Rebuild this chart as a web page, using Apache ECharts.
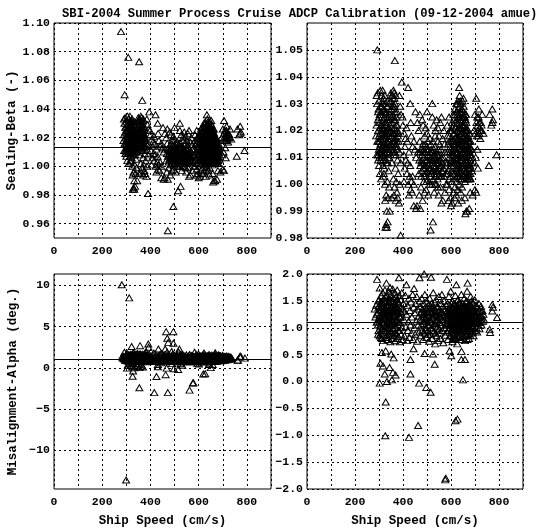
<html>
    <head>
        <meta charset="utf-8">
        <script src="https://cdn.jsdelivr.net/npm/echarts@6.0.0/dist/echarts.min.js"></script>
    </head>
    <body style="margin:0;background:#fff">
        <div id="main" style="width:544px;height:528px"></div>
        <script>

        var titleText = 'SBI-2004 Summer Process Cruise ADCP Calibration (09-12-2004 amue)';
        var speedName = 'Ship Speed (cm/s)';
        var betaName = 'Sealing-Beta (-)';
        var alphaName = 'Misalignment-Alpha (deg.)';

        var speedTicks = [0, 100, 200, 300, 400, 500, 600, 700, 800, 900];
        var speedLabels = [0, 200, 400, 600, 800];
        var betaWideTicks = [0.96, 0.98, 1.00, 1.02, 1.04, 1.06, 1.08, 1.10];
        var betaZoomTicks = [0.98, 0.99, 1.00, 1.01, 1.02, 1.03, 1.04, 1.05];
        var alphaWideTicks = [-10, -5, 0, 5, 10];
        var alphaZoomTicks = [-2.0, -1.5, -1.0, -0.5, 0.0, 0.5, 1.0, 1.5, 2.0];

        var betaMean = 1.013;
        var alphaMean = 1.11;

        // [ship speed, beta]
        var betaPoints = [
            [278,1.094],[308,1.076],[353,1.073],[293,1.050],[366,1.046],[390,0.981],[495,0.972],[472,0.955],
            [333,0.984],[336,0.986],
            [290,1.033],[295,1.034],[300,1.031],[305,1.035],[292,1.030],[298,1.028],[310,1.033],[303,1.026],
            [290,1.022],[296,1.020],[300,1.018],[293,1.016],[305,1.019],[299,1.013],[291,1.011],[296,1.009],
            [302,1.010],[308,1.012],[300,1.007],[306,1.015],[310,1.022],[295,1.024],[288,1.018],[304,1.004],
            [309,1.002],
            [315,1.035],[320,1.032],[325,1.030],[318,1.028],[330,1.027],[322,1.025],[335,1.024],[312,1.023],
            [328,1.022],[340,1.021],[317,1.020],[332,1.019],[324,1.018],[338,1.017],[314,1.016],[327,1.015],
            [342,1.014],[319,1.013],[333,1.012],[326,1.011],[337,1.010],[316,1.009],[330,1.008],[322,1.006],
            [340,1.005],[318,1.003],[335,1.001],[325,1.000],[342,0.999],[330,0.996],[338,0.995],[326,0.994],
            [345,0.990],[333,0.990],[330,0.985],[327,0.984],[320,1.004],[344,1.026],[336,1.029],[313,1.019],
            [321,1.015],[329,1.013],[343,1.010],[317,1.011],
            [296,1.027],[301,1.023],[306,1.029],[311,1.026],[316,1.024],[321,1.021],[326,1.027],[331,1.023],
            [336,1.020],[341,1.018],[298,1.016],[303,1.014],[308,1.017],[313,1.013],[318,1.015],[323,1.012],
            [328,1.017],[333,1.016],[338,1.013],[343,1.016],[297,1.011],[302,1.012],[307,1.009],[312,1.011],
            [317,1.007],[322,1.010],[327,1.009],[332,1.014],[337,1.008],[342,1.012],[314,1.031],[324,1.033],
            [334,1.031],[309,1.020],[319,1.018],[329,1.020],
            [300,1.025],[304,1.021],[308,1.027],[312,1.029],[316,1.030],[320,1.027],[324,1.023],[328,1.026],
            [332,1.029],[336,1.025],[340,1.023],[344,1.020],[302,1.016],[306,1.013],[310,1.010],[314,1.021],
            [318,1.017],[322,1.019],[326,1.014],[330,1.018],[334,1.015],[338,1.021],[342,1.019],[346,1.024],
            [348,1.017],[352,1.013],[356,1.029],[360,1.025],[364,1.029],[368,1.027],[372,1.025],[376,1.022],
            [380,1.019],[366,1.016],[370,1.014],
            [350,1.034],[355,1.033],[360,1.035],[365,1.032],[358,1.030],[370,1.033],[348,1.031],[362,1.028],
            [375,1.027],[352,1.025],[368,1.024],[357,1.023],[372,1.022],[361,1.021],[349,1.020],[378,1.020],
            [365,1.019],[355,1.018],[370,1.017],[360,1.016],[382,1.016],[351,1.015],[367,1.014],[374,1.013],
            [358,1.012],[385,1.012],[363,1.011],[377,1.009],[354,1.008],[390,1.008],[369,1.006],[380,1.004],
            [360,1.002],[372,1.001],[386,1.000],[365,0.999],[375,0.997],[362,0.996],[378,0.995],[353,0.995],
            [370,0.994],[383,0.993],[395,1.038],[385,1.033],[392,1.026],[398,1.025],[388,1.029],
            [352,1.028],[357,1.026],[362,1.024],[367,1.021],[372,1.019],[354,1.021],[359,1.019],[364,1.017],
            [369,1.015],[374,1.016],[356,1.014],[361,1.013],[366,1.012],[371,1.011],[353,1.033],[358,1.032],
            [363,1.034],[367,1.030],[376,1.014],[379,1.018],
            [400,1.022],[405,1.019],[410,1.017],[415,1.021],[408,1.014],[418,1.016],[425,1.012],[403,1.011],
            [412,1.009],[420,1.008],[430,1.007],[407,1.006],[416,1.004],[428,1.003],[404,1.001],[422,1.000],
            [435,1.001],[440,1.003],[445,1.000],[432,0.998],[438,0.997],[425,0.996],[445,0.992],[455,0.991],
            [440,1.014],[435,1.018],[450,1.013],[445,1.016],[455,1.010],[460,1.023],[452,1.027],[421,1.036],
            [430,1.030],[432,1.023],
            [465,1.020],[470,1.016],[475,1.013],[480,1.011],[468,1.009],[485,1.008],[472,1.007],[490,1.006],
            [478,1.005],[495,1.004],[462,1.012],[488,1.010],[500,1.009],[483,1.015],[493,1.012],[505,1.011],
            [498,1.014],[510,1.008],[476,1.003],[502,1.002],[515,1.006],[486,1.001],[508,1.004],[470,1.026],
            [480,1.024],[495,1.021],[490,1.018],[500,1.019],[512,1.017],[518,1.013],[520,1.009],[475,0.999],
            [490,0.997],[505,0.996],[468,0.996],[482,0.994],[458,0.992],[472,0.991],[500,1.027],[522,1.030],
            [525,0.986],[515,0.983],[496,0.998],[512,1.000],[466,1.004],[484,1.022],
            [472,1.012],[478,1.009],[484,1.006],[490,1.003],[496,1.007],[502,1.005],[508,1.010],[514,1.003],
            [520,1.005],[526,1.002],[532,1.006],[538,1.009],[544,1.005],[550,1.008],[556,1.003],[476,1.008],
            [482,1.012],[488,1.004],[494,1.009],[500,1.013],[506,1.007],[512,1.012],[518,1.010],[524,1.012],
            [530,1.004],[536,1.008],[542,1.011],[548,1.013],[554,1.006],[560,1.010],[498,1.001],[510,1.001],
            [522,1.000],[534,1.000],[546,0.999],[486,1.013],[492,1.015],[504,1.016],[516,1.015],[528,1.013],
            [505,1.013],[509,1.006],[513,1.009],[517,1.004],[521,1.012],[525,1.009],[529,1.007],[533,1.011],
            [537,1.005],[541,1.004],[545,1.009],[549,1.003],[553,1.011],[557,1.007],[561,1.003],[565,1.008],
            [569,1.006],[573,1.015],[577,1.004],[489,1.007],
            [522,1.025],[528,1.022],[535,1.020],[540,1.024],[545,1.021],[550,1.018],[525,1.016],[532,1.014],
            [538,1.012],[546,1.011],[553,1.015],[558,1.013],[530,1.010],[542,1.008],[548,1.006],[555,1.009],
            [560,1.007],[527,1.005],[536,1.003],[544,1.002],[552,1.004],[563,1.005],[540,1.000],[556,0.999],
            [530,0.997],[548,0.996],[570,1.020],[565,1.017],[575,1.012],[568,1.010],[572,1.003],[578,1.008],
            [560,1.025],[555,1.023],[545,1.016],[534,1.018],[524,1.008],[566,0.994],[560,0.993],[575,0.997],
            [580,1.000],
            [585,1.022],[585,1.018],[585,1.012],[585,1.008],[585,1.004],[585,1.000],
            [592,1.025],[592,1.016],[592,1.010],[592,1.006],[592,1.002],[592,0.998],
            [598,1.020],[598,1.014],[598,1.009],[598,1.003],[598,0.995],
            [604,1.023],[604,1.017],[604,1.011],[604,1.005],[604,1.001],[604,0.993],
            [610,1.026],[610,1.019],[610,1.013],[610,1.007],[610,1.002],[610,0.997],
            [616,1.028],[616,1.021],[616,1.015],[616,1.010],[616,1.004],[616,0.999],
            [622,1.030],[622,1.024],[622,1.018],[622,1.012],[622,1.006],[622,1.001],[622,0.996],
            [628,1.031],[628,1.026],[628,1.020],[628,1.014],[628,1.008],[628,1.003],[628,0.998],
            [634,1.036],[634,1.029],[634,1.023],[634,1.017],[634,1.011],[634,1.005],[634,1.000],
            [640,1.030],[640,1.025],[640,1.019],[640,1.013],[640,1.007],[640,1.002],[640,0.997],
            [646,1.028],[646,1.022],[646,1.016],[646,1.010],[646,1.004],[646,0.999],
            [652,1.032],[652,1.027],[652,1.020],[652,1.014],[652,1.008],[652,1.003],
            [658,1.025],[658,1.018],[658,1.012],[658,1.006],[658,1.001],[658,0.995],
            [664,1.023],[664,1.016],[664,1.010],[664,1.005],[664,1.002],[664,0.990],
            [670,1.020],[670,1.014],[670,1.009],[670,1.004],[670,1.002],
            [676,1.019],[676,1.013],[676,1.008],[676,1.003],[676,0.991],
            [682,1.016],[682,1.011],[682,1.006],[682,1.002],
            [588,1.015],[588,1.005],[595,1.012],[595,1.020],[601,1.007],[601,1.016],[607,1.009],[607,1.021],
            [613,1.011],[613,1.024],[619,1.008],[619,1.017],[625,1.010],[625,1.027],[631,1.015],[631,1.021],
            [631,1.006],[637,1.027],[637,1.018],[637,1.009],[637,1.003],[643,1.021],[643,1.015],[643,1.005],
            [649,1.025],[649,1.012],[649,1.007],[655,1.022],[655,1.016],[655,1.010],[661,1.020],[661,1.013],
            [661,1.004],[667,1.018],[667,1.011],[667,1.007],[673,1.016],[673,1.006],[679,1.014],[679,1.009],
            [686,1.008],[686,1.013],
            [594,1.018],[597,1.008],[600,1.013],[603,1.020],[606,1.004],[609,1.016],[612,1.008],[614,1.019],
            [617,1.012],[620,1.021],[623,1.015],[624,1.003],[626,1.023],[627,1.012],[629,1.017],[630,1.028],
            [632,1.010],[633,1.025],[635,1.014],[636,1.021],[638,1.006],[639,1.031],[641,1.016],[642,1.024],
            [644,1.009],[645,1.028],[647,1.013],[648,1.020],[650,1.004],[651,1.017],[653,1.029],[654,1.011],
            [656,1.023],[657,1.007],[659,1.015],[660,1.020],[662,1.009],[663,1.017],[665,1.013],[666,1.003],
            [668,1.015],[669,1.006],[671,1.012],[672,1.018],[674,1.010],[675,1.004],[677,1.016],[678,1.007],
            [680,1.011],[681,1.004],[684,1.010],[687,1.005],[633,1.008],[627,1.030],[644,1.002],[655,1.002],
            [660,1.026],[666,1.021],[640,1.010],[620,1.009],[612,1.015],[606,1.012],[648,1.031],[636,1.033],
            [630,1.004],[672,1.002],[678,1.002],
            [616,1.026],[619,1.013],[621,1.005],[623,1.027],[626,1.017],[629,1.007],[631,1.025],[633,1.019],
            [634,1.013],[636,1.003],[638,1.024],[640,1.016],[642,1.011],[643,1.027],[645,1.019],[647,1.006],
            [649,1.016],[650,1.022],[652,1.010],[654,1.025],[656,1.013],[657,1.019],[659,1.004],[661,1.024],
            [662,1.015],[664,1.008],[665,1.020],[667,1.013],[669,1.017],[670,1.007],[672,1.013],[674,1.016],
            [676,1.006],[678,1.012],[680,1.007],[683,1.013],[626,1.010],[632,1.016],[646,1.012],[658,1.009],
            [663,1.026],[668,1.004],[639,1.020],[651,1.004],[624,1.020],[618,1.023],
            [590,0.994],[600,0.992],[615,0.995],[630,0.993],[645,0.994],[660,0.989],[668,0.990],[680,0.997],
            [690,0.996],
            [695,1.020],[700,1.026],[705,1.032],[708,1.018],[712,1.022],[715,1.025],[718,1.019],[720,1.021],
            [724,1.023],[728,1.020],[722,1.017],[710,1.013],[703,1.010],[712,1.006],[698,1.008],[705,0.997],
            [700,0.998],[730,1.026],[735,1.019],[716,1.028],
            [702,1.019],[706,1.023],[711,1.020],[714,1.018],[719,1.023],[723,1.020],[727,1.022],[709,1.025],
            [761,1.026],[772,1.028],[772,1.023],[768,1.022],[758,1.007],[790,1.011],[775,1.024]
        ];

        // [ship speed, alpha]
        var alphaPoints = [
            [281,10.1],[312,8.5],[299,-13.6],[465,4.4],[495,4.4],[470,3.6],[474,3.1],[495,3.0],
            [322,2.6],[391,2.9],[392,2.5],[357,2.7],[433,2.3],[461,2.3],[520,2.3],[488,2.0],
            [354,-2.4],[416,-3.0],[472,-3.0],[562,-2.7],[578,-1.8],[627,-0.7],
            [282,1.35],[285,1.20],[288,1.42],[290,1.10],[292,1.90],[293,1.28],[295,1.05],[297,1.50],
            [298,0.95],[300,1.33],[301,1.15],[303,1.74],[303,0.85],[305,1.45],[306,1.02],[307,1.25],
            [308,0.90],[309,1.60],[310,1.38],[311,1.12],[312,0.80],[313,1.48],[314,0.98],[315,1.22],
            [316,1.65],[317,0.76],[318,1.30],[319,1.08],[320,1.55],[320,0.88],
            [322,1.40],[323,1.18],[324,0.95],[325,1.70],[326,1.28],[327,0.82],[328,1.50],[329,1.05],
            [330,1.35],[331,1.83],[332,0.92],[333,1.60],[334,1.15],[335,1.42],[336,0.78],[337,1.25],
            [338,1.00],[339,1.55],[340,1.68],[341,0.86],[342,1.32],[343,1.10],[344,1.47],[345,0.95],
            [346,1.75],[347,1.20],[348,0.74],[349,1.38],[350,1.05],[351,1.62],[352,0.90],[353,1.28],
            [354,1.50],[355,0.80],[356,1.15],[357,1.72],[358,1.40],[359,0.98],[360,1.22],
            [362,1.55],[363,0.85],[364,1.35],[365,1.10],[366,1.65],[367,0.76],[368,1.45],[369,1.00],
            [370,1.25],[371,1.58],[372,0.90],[373,1.38],[374,1.15],[376,1.70],[377,0.80],[378,1.30],
            [379,1.05],[380,1.48],[382,0.95],[383,1.93],[384,1.22],[385,1.60],[386,0.74],[388,1.40],
            [389,1.10],[390,1.52],[392,0.88],[393,1.28],[395,1.65],[396,1.00],[398,1.35],[399,0.78],
            [290,1.25],[294,1.12],[298,1.38],[302,1.22],[306,1.35],[310,1.18],[314,1.30],[318,1.10],
            [322,1.28],[326,1.15],[330,1.42],[334,1.05],[338,1.30],[342,1.22],[346,1.40],[350,1.18],
            [354,1.33],[358,1.12],[362,1.25],[366,1.38],[370,1.15],[374,1.28],[378,1.12],[382,1.35],
            [386,1.20],[390,1.30],[296,0.88],[308,0.82],[320,0.95],[332,0.85],[344,0.90],[356,0.86],
            [368,0.92],[380,0.84],[300,1.52],[315,1.45],[328,1.58],[340,1.48],[352,1.56],[364,1.45],
            [376,1.52],
            [304,1.18],[311,1.40],[319,1.25],[327,1.02],[335,1.30],[343,1.15],[351,1.40],[359,1.28],
            [367,1.05],[375,1.40],[383,1.10],[391,1.20],[305,1.05],[321,1.32],[337,1.12],[353,1.08],
            [369,1.32],[385,0.95],
            [312,0.54],[328,0.57],[351,0.51],[361,0.44],[306,0.34],[317,0.29],[324,0.14],[344,0.26],
            [358,0.17],[369,0.12],[303,-0.03],[333,0.00],[354,0.03],[328,-0.38],[326,-1.01],
            [402,1.45],[404,1.15],[406,0.85],[408,1.30],[410,1.60],[412,1.02],[414,1.80],[415,1.25],
            [417,0.76],[419,1.42],[421,0.95],[423,1.12],[425,1.55],[427,0.82],[429,1.32],[431,1.05],
            [433,1.48],[435,0.90],[437,1.20],[440,1.62],[442,0.78],[444,1.38],[446,1.73],[447,1.00],
            [449,1.28],[451,0.88],[453,1.45],[455,1.12],[457,1.58],[459,0.75],[461,1.35],[463,1.05],
            [465,1.22],[467,0.92],[469,1.93],[469,1.50],
            [425,-1.04],[431,0.41],[444,0.61],[431,0.14],[467,-0.03],[497,-0.11],[515,-0.20],[463,-0.82],
            [619,-0.73],[576,-1.83],[650,0.03],[525,0.51],[532,0.32],[490,0.52],[594,0.57],[601,0.48],
            [643,0.41],[658,0.41],[644,0.56],
            [471,1.15],[472,1.40],[474,0.85],[475,1.28],[477,1.05],[478,1.55],[480,0.95],[481,1.35],
            [483,1.18],[484,0.78],[486,1.45],[487,1.08],[489,1.25],[490,0.90],[491,1.62],[493,1.38],
            [494,1.00],[496,1.20],[497,0.82],[499,1.50],[500,1.12],[502,1.30],[503,0.95],[505,1.42],
            [506,1.05],[508,1.22],[509,0.75],[511,1.55],[512,1.15],[514,1.35],[515,0.88],[517,1.94],
            [517,1.28],[519,1.00],[520,1.45],[522,0.80],[523,1.18],[525,1.38],[526,1.65],[528,0.92],
            [529,1.25],[531,1.08],[532,1.48],[534,0.70],[535,1.32],[537,1.12],[538,1.52],[540,0.85],
            [541,1.22],[543,1.40],[544,1.02],[546,0.76],[547,1.30],[549,1.58],[550,1.10],[552,0.90],
            [553,1.35],[555,1.20],[556,0.80],[558,1.45],[559,1.05],[561,1.28],[562,1.62],[564,0.95],
            [565,1.15],[567,1.40],[568,0.72],[570,1.25],[571,1.50],[573,1.00],[574,1.32],[576,0.86],
            [577,1.18],[579,1.42],[580,1.08],
            [482,1.25],[486,1.12],[490,1.30],[494,1.18],[498,1.35],[502,1.05],[506,1.28],[510,1.15],
            [514,1.40],[518,1.10],[522,1.30],[526,1.20],[530,1.35],[534,1.05],[538,1.25],[542,1.15],
            [546,1.38],[550,1.22],[554,1.10],[558,1.28],[488,0.92],[504,0.88],[520,0.95],[536,0.90],
            [552,0.98],
            [582,1.30],[583,1.90],[583,0.92],[585,1.20],[586,1.45],[587,0.78],[589,1.10],[590,1.35],
            [591,1.58],[593,1.00],[594,1.25],[595,0.85],[597,1.40],[598,1.15],[599,1.68],[601,0.95],
            [602,1.30],[603,1.05],[605,1.50],[606,0.74],[607,1.22],[609,1.38],[610,0.90],[611,1.12],
            [613,1.45],[614,1.02],[615,1.28],[617,0.82],[618,1.60],[619,1.18],[621,1.35],[622,1.80],
            [622,0.96],[623,1.08],[625,1.42],[626,0.70],[627,1.25],[629,1.52],[630,1.00],[631,1.15],
            [633,1.32],[634,0.88],[635,1.48],[637,1.10],[638,1.22],[639,0.78],[641,1.38],[642,1.05],
            [643,1.62],[645,0.92],[646,1.28],[647,1.18],[649,1.45],[650,0.85],[651,1.12],[653,1.35],
            [654,1.00],[655,1.55],[657,1.22],[658,0.76],[659,1.40],[661,1.08],[662,1.30],[663,0.95],
            [665,1.50],[666,1.15],[667,1.68],[669,1.83],[669,1.25],[670,0.88],[671,1.38],[673,1.05],
            [674,1.20],[675,0.80],[677,1.45],[678,1.12],[679,1.32],[681,0.98],[682,1.58],[683,1.22],
            [685,1.40],[686,0.90],[687,1.10],[689,1.30],[690,1.48],[691,1.02],[693,1.18],[694,0.85],
            [695,1.35],[697,1.25],[698,1.08],[699,1.52],[701,0.95],[702,1.30],[703,1.15],[705,1.42],
            [706,1.00],[707,1.22],[709,0.92],[710,1.38],[711,1.12],[713,1.28],[714,1.05],[716,1.45],
            [717,1.18],[719,0.98],[720,1.32],[722,1.10],[723,1.25],[725,1.40],[727,1.05],[729,1.20],
            [731,1.32],[733,1.12],[735,1.25],[738,1.15],
            [600,1.10],[605,1.18],[610,1.25],[615,1.05],[620,1.12],[625,0.98],[630,1.30],[635,1.08],
            [640,1.18],[645,1.02],[650,1.25],[655,1.12],[660,0.95],[665,1.20],[670,1.08],[675,1.30],
            [680,1.15],[612,0.88],[628,0.85],[648,1.35],[662,1.40],[592,1.22],[604,1.35],[618,1.28],
            [584,1.15],[588,1.28],[592,1.05],[596,1.32],[600,1.22],[604,0.98],[608,1.15],[612,1.30],
            [616,1.08],[620,1.22],[624,1.35],[628,1.12],[632,0.95],[636,1.28],[640,1.05],[644,1.40],
            [648,1.12],[652,1.25],[656,0.92],[660,1.18],[664,1.32],[668,1.05],[672,1.25],[676,1.15],
            [680,1.38],[684,1.05],[688,1.22],[692,1.30],[696,1.12],[700,1.22],[704,1.08],[708,1.30],
            [712,1.18],[716,1.10],[720,1.22],[724,1.15],[728,1.30],[596,0.85],[608,0.80],[620,0.78],
            [632,0.82],[644,0.78],[656,0.84],[668,0.78],[680,0.86],[602,1.45],[614,1.42],[626,1.50],
            [638,1.45],[650,1.40],[662,1.48],[674,1.42],[686,1.50],[606,1.08],[618,1.00],[630,1.20],
            [642,1.28],[654,1.35],[666,0.98],[678,0.95],[690,1.00],
            [583,1.05],[587,1.18],[591,0.95],[595,1.12],[599,1.25],[603,0.90],[607,1.38],[611,1.02],
            [615,1.15],[619,0.92],[623,1.28],[627,1.05],[631,1.38],[635,0.95],[639,1.12],[643,1.25],
            [647,0.98],[651,1.32],[655,1.05],[659,1.22],[663,0.88],[667,1.12],[671,1.28],[675,0.98],
            [679,1.22],[683,1.10],[687,1.32],[691,0.92],[695,1.15],[699,1.28],[609,1.20],[621,1.10],
            [633,1.02],[645,1.15],[657,1.08],[669,1.18],[681,1.28],[613,0.86],[637,0.84],[661,0.86],
            [761,0.97],[763,0.91],[772,1.43],[772,1.31],[792,1.19],[775,1.38]
        ];

        var myChart = echarts.init(document.getElementById('main'));
        var font = 'Liberation Mono';
        var weight = 'bold';

        function fmt(digits) {
            return function (v) {
                return v.toFixed(digits).replace('-', '\u2212');
            };
        }

        function xAxis(gridIndex, withName) {
            return {
                type: 'value',
                gridIndex: gridIndex,
                min: 0,
                max: 900,
                name: withName ? speedName : '',
                nameLocation: 'middle',
                nameGap: 25,
                nameTextStyle: {color: '#000', fontFamily: font, fontWeight: weight, fontSize: 12.5},
                axisLine: {show: false},
                axisTick: {show: false, customValues: speedTicks},
                axisLabel: {
                    customValues: speedLabels,
                    color: '#000',
                    fontFamily: font,
                    fontWeight: weight,
                    fontSize: 11.5,
                    margin: 7
                },
                splitLine: {show: true, lineStyle: {color: '#000', type: [2, 3], width: 1}}
            };
        }

        function yAxis(gridIndex, min, max, ticks, labels, digits, name) {
            return {
                type: 'value',
                gridIndex: gridIndex,
                min: min,
                max: max,
                name: name || '',
                nameLocation: 'middle',
                nameGap: 35,
                nameTextStyle: {color: '#000', fontFamily: font, fontWeight: weight, fontSize: 12.5},
                axisLine: {show: false},
                axisTick: {show: false, customValues: ticks},
                axisLabel: {
                    customValues: labels,
                    formatter: fmt(digits),
                    color: '#000',
                    fontFamily: font,
                    fontWeight: weight,
                    fontSize: 11.5,
                    margin: 4
                },
                splitLine: {show: true, lineStyle: {color: '#000', type: [2, 3], width: 1}}
            };
        }

        function scatter(index, points, mean) {
            return {
                type: 'scatter',
                xAxisIndex: index,
                yAxisIndex: index,
                data: points,
                clip: true,
                symbol: 'triangle',
                symbolSize: [7, 6],
                itemStyle: {color: 'rgba(0,0,0,0)', borderColor: '#000', borderWidth: 1, opacity: 1},
                markLine: {
                    silent: true,
                    symbol: 'none',
                    precision: 4,
                    label: {show: false},
                    lineStyle: {color: '#000', type: 'solid', width: 1},
                    data: [{yAxis: mean}]
                }
            };
        }

        var gridStyle = {show: true, borderColor: '#000', borderWidth: 1, backgroundColor: 'transparent'};

        myChart.setOption({
            backgroundColor: '#fff',
            animation: false,
            title: {
                text: titleText,
                left: 57,
                top: 3,
                textStyle: {color: '#000', fontFamily: font, fontSize: 12.2, fontWeight: weight}
            },
            grid: [
                Object.assign({left: 54, top: 23, width: 217, height: 215}, gridStyle),
                Object.assign({left: 307, top: 23, width: 216, height: 215}, gridStyle),
                Object.assign({left: 54, top: 274, width: 217, height: 216}, gridStyle),
                Object.assign({left: 307, top: 274, width: 216, height: 216}, gridStyle)
            ],
            xAxis: [
                xAxis(0, false),
                xAxis(1, false),
                xAxis(2, true),
                xAxis(3, true)
            ],
            yAxis: [
                yAxis(0, 0.95, 1.10, betaWideTicks, betaWideTicks, 2, betaName),
                yAxis(1, 0.98, 1.06, betaZoomTicks, betaZoomTicks, 2),
                yAxis(2, -14.7, 11.4, alphaWideTicks, alphaWideTicks, 0, alphaName),
                yAxis(3, -2, 2, alphaZoomTicks, alphaZoomTicks, 1)
            ],
            series: [
                scatter(0, betaPoints, betaMean),
                scatter(1, betaPoints, betaMean),
                scatter(2, alphaPoints, alphaMean),
                scatter(3, alphaPoints, alphaMean)
            ]
        });

        </script>
    </body>
</html>
